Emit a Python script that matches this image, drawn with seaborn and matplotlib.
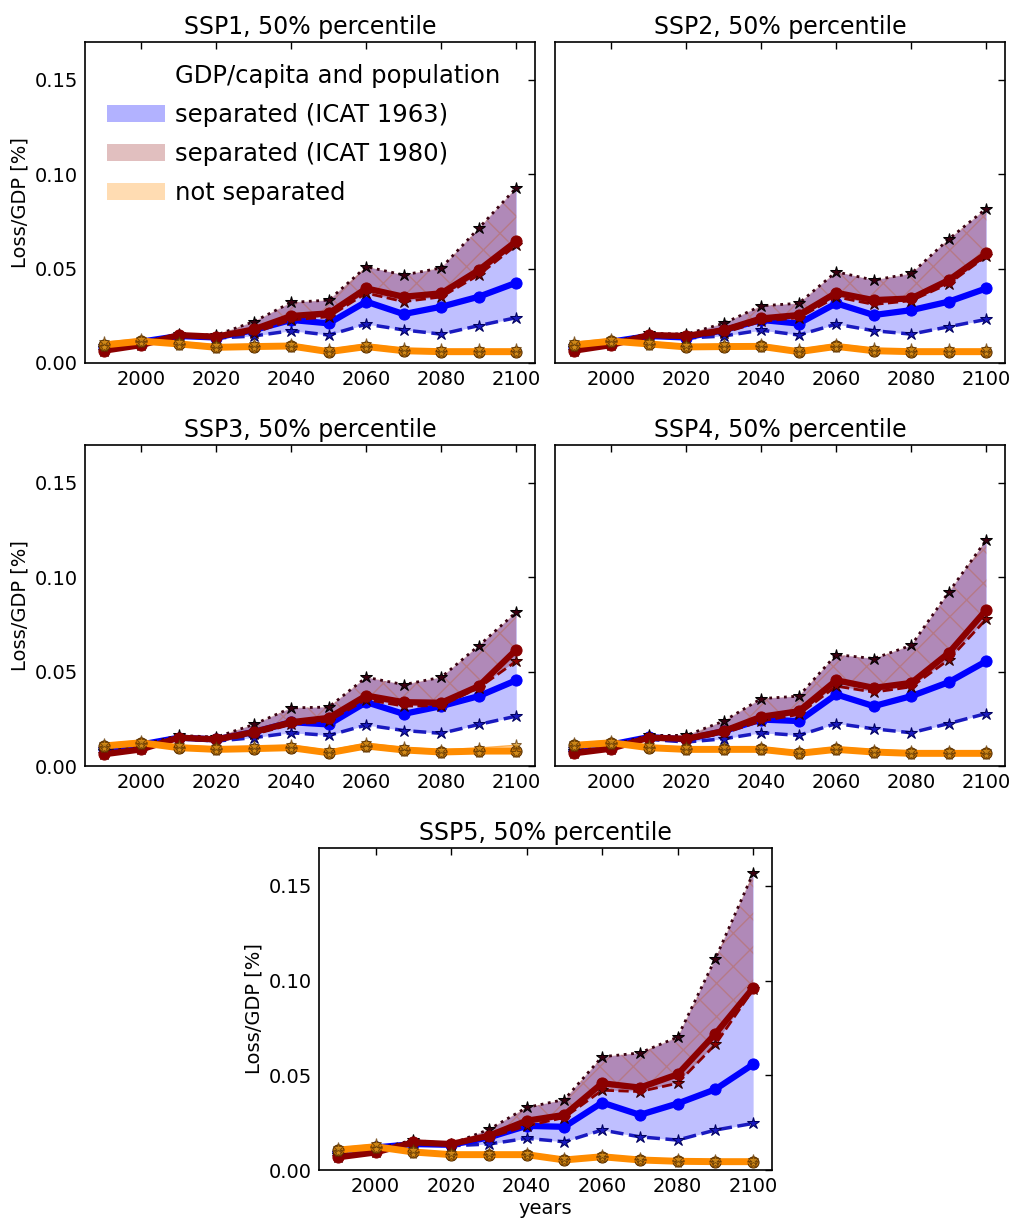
import numpy as np
import matplotlib
matplotlib.use("Agg")
import matplotlib.pyplot as plt
import seaborn as sns
from matplotlib.patches import Patch

years = [1990, 2000, 2010, 2020, 2030, 2040, 2050, 2060, 2070, 2080, 2090, 2100]

# SSP1
ssp1_b_lo = [0.009, 0.011, 0.0143, 0.0132, 0.0143, 0.0171, 0.0148, 0.0206, 0.0175, 0.0153, 0.0198, 0.024]
ssp1_b_med = [0.0085, 0.0113, 0.0143, 0.0135, 0.0174, 0.0228, 0.021, 0.0325, 0.0259, 0.0298, 0.0351, 0.0425]
ssp1_r_lo = [0.0065, 0.0095, 0.0143, 0.0135, 0.0159, 0.0228, 0.0245, 0.037, 0.0325, 0.035, 0.0466, 0.0624]
ssp1_r_med = [0.0065, 0.0095, 0.0148, 0.0139, 0.0178, 0.0249, 0.0263, 0.0395, 0.0351, 0.0369, 0.0492, 0.0645]
ssp1_r_hi = [0.008, 0.011, 0.0153, 0.0148, 0.0219, 0.0321, 0.0333, 0.051, 0.0466, 0.0504, 0.0714, 0.0928]
ssp1_o_lo = [0.0085, 0.0106, 0.0092, 0.0075, 0.0079, 0.0082, 0.0053, 0.0079, 0.0058, 0.0053, 0.0053, 0.0053]
ssp1_o_med = [0.0095, 0.0116, 0.0101, 0.0083, 0.0087, 0.009, 0.006, 0.0087, 0.0065, 0.006, 0.006, 0.006]
ssp1_o_hi = [0.011, 0.0128, 0.0113, 0.0096, 0.0099, 0.0102, 0.0072, 0.01, 0.0077, 0.0072, 0.0072, 0.0072]

# SSP2
ssp2_b_lo = [0.009, 0.011, 0.0143, 0.0132, 0.0143, 0.0174, 0.0148, 0.0206, 0.0171, 0.0153, 0.0192, 0.0231]
ssp2_b_med = [0.0085, 0.0113, 0.0143, 0.0135, 0.0174, 0.0228, 0.0209, 0.0316, 0.0254, 0.028, 0.0325, 0.0395]
ssp2_r_lo = [0.0065, 0.0095, 0.014, 0.0135, 0.016, 0.022, 0.024, 0.035, 0.031, 0.033, 0.042, 0.0565]
ssp2_r_med = [0.0065, 0.0095, 0.0148, 0.0143, 0.0174, 0.0236, 0.0254, 0.0372, 0.0333, 0.0342, 0.0439, 0.058]
ssp2_r_hi = [0.008, 0.011, 0.0157, 0.0153, 0.021, 0.0303, 0.0316, 0.0483, 0.0439, 0.0474, 0.0656, 0.0818]
ssp2_o_lo = [0.0085, 0.0106, 0.0092, 0.0077, 0.0079, 0.008, 0.0053, 0.008, 0.0058, 0.0053, 0.0053, 0.0053]
ssp2_o_med = [0.0095, 0.0116, 0.0101, 0.0085, 0.0087, 0.0088, 0.006, 0.0088, 0.0065, 0.006, 0.006, 0.006]
ssp2_o_hi = [0.011, 0.0128, 0.0113, 0.0097, 0.0099, 0.01, 0.0072, 0.0101, 0.0077, 0.0072, 0.0072, 0.0072]

# SSP3
ssp3_b_lo = [0.009, 0.011, 0.0144, 0.0132, 0.015, 0.0176, 0.0162, 0.0217, 0.0188, 0.0173, 0.022, 0.0264]
ssp3_b_med = [0.0088, 0.0114, 0.015, 0.0141, 0.018, 0.0232, 0.022, 0.0338, 0.0276, 0.0317, 0.037, 0.0454]
ssp3_r_lo = [0.0062, 0.0088, 0.0144, 0.0132, 0.0167, 0.022, 0.0238, 0.0352, 0.0317, 0.032, 0.0414, 0.0555]
ssp3_r_med = [0.0062, 0.0088, 0.015, 0.0141, 0.018, 0.0232, 0.0255, 0.0373, 0.0338, 0.0335, 0.0423, 0.0616]
ssp3_r_hi = [0.008, 0.011, 0.0162, 0.0153, 0.022, 0.0308, 0.0312, 0.047, 0.0431, 0.047, 0.0637, 0.0815]
ssp3_o_lo = [0.0096, 0.0113, 0.0088, 0.008, 0.0083, 0.0088, 0.0062, 0.0096, 0.0076, 0.0066, 0.007, 0.007]
ssp3_o_med = [0.0106, 0.0123, 0.0097, 0.0088, 0.0092, 0.0097, 0.007, 0.0106, 0.0085, 0.0074, 0.0079, 0.0079]
ssp3_o_hi = [0.0118, 0.0135, 0.011, 0.01, 0.0104, 0.011, 0.0083, 0.012, 0.0098, 0.0087, 0.0095, 0.011]

# SSP4
ssp4_b_lo = [0.009, 0.011, 0.0141, 0.0127, 0.0144, 0.0176, 0.0162, 0.0225, 0.0197, 0.0176, 0.0225, 0.0278]
ssp4_b_med = [0.0085, 0.0114, 0.0153, 0.0141, 0.0185, 0.0246, 0.0238, 0.0379, 0.0317, 0.037, 0.0444, 0.0555]
ssp4_r_lo = [0.0067, 0.0092, 0.0146, 0.0136, 0.0173, 0.0238, 0.0273, 0.0423, 0.0391, 0.0419, 0.0563, 0.0778]
ssp4_r_med = [0.0067, 0.0092, 0.015, 0.0144, 0.0185, 0.0261, 0.029, 0.0454, 0.0414, 0.044, 0.0599, 0.0827]
ssp4_r_hi = [0.008, 0.011, 0.0162, 0.0162, 0.0238, 0.0357, 0.037, 0.059, 0.0569, 0.0639, 0.0921, 0.1197]
ssp4_o_lo = [0.0099, 0.0113, 0.0088, 0.008, 0.008, 0.008, 0.006, 0.008, 0.0066, 0.006, 0.006, 0.006]
ssp4_o_med = [0.0109, 0.0123, 0.0097, 0.0088, 0.0088, 0.0088, 0.0067, 0.0088, 0.0074, 0.0067, 0.0067, 0.0067]
ssp4_o_hi = [0.0121, 0.0135, 0.0109, 0.01, 0.01, 0.01, 0.0079, 0.01, 0.0086, 0.0079, 0.0079, 0.0079]

# SSP5
ssp5_b_lo = [0.009, 0.011, 0.0137, 0.0128, 0.0137, 0.0167, 0.0149, 0.0211, 0.0175, 0.0158, 0.0211, 0.0246]
ssp5_b_med = [0.0093, 0.0119, 0.0137, 0.0133, 0.0172, 0.0233, 0.0228, 0.0356, 0.0291, 0.0351, 0.0426, 0.0558]
ssp5_r_lo = [0.0067, 0.0093, 0.0146, 0.0133, 0.0172, 0.0233, 0.0277, 0.0421, 0.0414, 0.0458, 0.0663, 0.0953]
ssp5_r_med = [0.0067, 0.0093, 0.0146, 0.0137, 0.0181, 0.026, 0.0291, 0.0458, 0.0435, 0.0505, 0.0719, 0.0961]
ssp5_r_hi = [0.008, 0.011, 0.0158, 0.0137, 0.0214, 0.033, 0.0372, 0.0598, 0.0618, 0.0702, 0.1116, 0.1567]
ssp5_o_lo = [0.0095, 0.0113, 0.0086, 0.0073, 0.0073, 0.0073, 0.0046, 0.0062, 0.0046, 0.0039, 0.0037, 0.0037]
ssp5_o_med = [0.0105, 0.0123, 0.0095, 0.0081, 0.0081, 0.0081, 0.0053, 0.007, 0.0053, 0.0046, 0.0044, 0.0044]
ssp5_o_hi = [0.0117, 0.0135, 0.0106, 0.0092, 0.0092, 0.0092, 0.0064, 0.0081, 0.0064, 0.0056, 0.0054, 0.0054]

titles = ["SSP1, 50% percentile", "SSP2, 50% percentile", "SSP3, 50% percentile",
          "SSP4, 50% percentile", "SSP5, 50% percentile"]
legend_labels = ["GDP/capita and population", "separated (ICAT 1963)",
                 "separated (ICAT 1980)", "not separated"]

sns.set_theme(style="white")
plt.rcParams['font.family'] = ['DejaVu Sans']
plt.rcParams['xtick.direction'] = 'in'
plt.rcParams['ytick.direction'] = 'in'
plt.rcParams['xtick.top'] = True
plt.rcParams['ytick.right'] = True
plt.rcParams['axes.edgecolor'] = 'black'
plt.rcParams['text.color'] = 'black'
plt.rcParams['axes.labelcolor'] = 'black'
plt.rcParams['xtick.color'] = 'black'
plt.rcParams['ytick.color'] = 'black'
plt.rcParams['hatch.linewidth'] = 1.0

BLUE = '#0000ff'
RED = '#8b0000'
ORANGE = '#ff8c00'


def draw_panel(ax, b_lo, b_med, r_lo, r_med, r_hi, o_lo, o_med, o_hi):
    # bands
    ax.fill_between(years, b_lo, r_hi, facecolor=BLUE, alpha=0.25, lw=0, zorder=1)
    ax.fill_between(years, r_lo, r_hi, facecolor=(0.55, 0, 0, 0.28),
                    edgecolor=(0.72, 0.45, 0.45, 0.7), hatch='x', lw=0, zorder=1)
    ax.fill_between(years, o_lo, o_hi, facecolor=ORANGE, alpha=0.35, lw=0, zorder=1)

    # ICAT 1963
    sns.lineplot(x=years, y=b_lo, ax=ax, color='#1a1ac0', lw=2.5, ls='--',
                 marker='*', ms=9, mec='#000060', zorder=3)
    sns.lineplot(x=years, y=b_med, ax=ax, color=BLUE, lw=4.5,
                 marker='o', ms=8, mec=BLUE, zorder=4)
    # ICAT 1980
    sns.lineplot(x=years, y=r_lo, ax=ax, color=RED, lw=2, ls='--',
                 marker='*', ms=9, mec='#300000', zorder=5)
    sns.lineplot(x=years, y=r_med, ax=ax, color=RED, lw=4.5,
                 marker='o', ms=8, mec=RED, zorder=6)
    sns.lineplot(x=years, y=r_hi, ax=ax, color='#3a0010', lw=2, ls=':',
                 marker='*', ms=9, mec='#000000', zorder=5)
    # not separated
    sns.lineplot(x=years, y=o_med, ax=ax, color=ORANGE, lw=5,
                 marker='o', ms=8, mfc='#c8780a', mec='#5a3000', zorder=7)
    sns.lineplot(x=years, y=o_lo, ax=ax, color=ORANGE, lw=1, alpha=0.7,
                 marker='*', ms=8, mfc='#d09020', mec='#5a3000', zorder=7)
    sns.lineplot(x=years, y=o_hi, ax=ax, color=ORANGE, lw=1, alpha=0.7,
                 marker='*', ms=8, mfc='#d09020', mec='#5a3000', zorder=7)

    ax.set_xlim(1985, 2105)
    ax.set_ylim(0, 0.17)
    ax.set_xticks([2000, 2020, 2040, 2060, 2080, 2100])
    ax.set_yticks([0.0, 0.05, 0.10, 0.15])
    ax.yaxis.set_major_formatter(matplotlib.ticker.FormatStrFormatter('%.2f'))
    ax.tick_params(labelsize=14, length=5, width=1, color='black', pad=5)
    for sp in ax.spines.values():
        sp.set_linewidth(1.2)
        sp.set_color('black')


W, H = 1009, 1225
fig = plt.figure(figsize=(W / 100, H / 100), dpi=100)

boxes = [(85, 42, 450, 321), (555, 42, 450, 321),
         (85, 445, 450, 321), (555, 445, 450, 321),
         (319, 848, 453, 322)]
series = [
    (ssp1_b_lo, ssp1_b_med, ssp1_r_lo, ssp1_r_med, ssp1_r_hi, ssp1_o_lo, ssp1_o_med, ssp1_o_hi),
    (ssp2_b_lo, ssp2_b_med, ssp2_r_lo, ssp2_r_med, ssp2_r_hi, ssp2_o_lo, ssp2_o_med, ssp2_o_hi),
    (ssp3_b_lo, ssp3_b_med, ssp3_r_lo, ssp3_r_med, ssp3_r_hi, ssp3_o_lo, ssp3_o_med, ssp3_o_hi),
    (ssp4_b_lo, ssp4_b_med, ssp4_r_lo, ssp4_r_med, ssp4_r_hi, ssp4_o_lo, ssp4_o_med, ssp4_o_hi),
    (ssp5_b_lo, ssp5_b_med, ssp5_r_lo, ssp5_r_med, ssp5_r_hi, ssp5_o_lo, ssp5_o_med, ssp5_o_hi),
]

for i, ((x0, y0, w, h), data) in enumerate(zip(boxes, series)):
    ax = fig.add_axes([x0 / W, 1 - (y0 + h) / H, w / W, h / H])
    draw_panel(ax, *data)
    ax.set_title(titles[i], fontsize=17, pad=6)
    if i in (1, 3):
        ax.set_yticklabels([])
    else:
        ax.set_ylabel("Loss/GDP [%]", fontsize=14, labelpad=4)
    if i == 4:
        ax.set_xlabel("years", fontsize=14, labelpad=2)
    if i == 0:
        handles = [Patch(visible=False),
                   Patch(facecolor=BLUE, alpha=0.3, lw=0),
                   Patch(facecolor=RED, alpha=0.25, lw=0),
                   Patch(facecolor=ORANGE, alpha=0.3, lw=0)]
        ax.legend(handles, legend_labels, loc='upper left', frameon=False,
                  fontsize=17.5, handlelength=2.4, handletextpad=0.4,
                  labelspacing=0.62, borderaxespad=0.5, borderpad=0.4)

fig.savefig("out.png", dpi=100)
